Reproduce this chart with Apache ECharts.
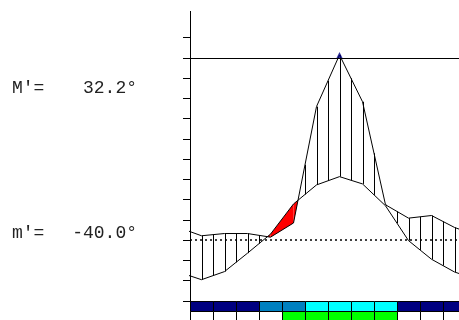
<!DOCTYPE html>
<html><head><meta charset="utf-8">
<script src="https://cdn.jsdelivr.net/npm/echarts@6/dist/echarts.min.js"></script>
<style>html,body{margin:0;padding:0;background:#fff}#c{width:459px;height:320px}</style>
</head><body><div id="c"></div>
<script>
const months = ['Jan','Feb','Mar','Apr','May','Jun','Jul','Aug','Sep','Oct','Nov','Dec'];
const temperature = [10.5, 14.5, 23.6, 33.0, 47.9, 57.3, 61.4, 57.8, 47.0, 29.8, 20.6, 14.3];
const precipitation = [32.2, 33.3, 33.3, 31.5, 38.5, 96.0, 121.5, 98.4, 47.5, 40.9, 42.2, 36.3];
const topBand = [0, 0, 0, 1, 1, 2, 2, 2, 2, 0, 0, 0];
const bottomBand = [0, 0, 0, 0, 1, 1, 1, 1, 1, 0, 0, 0];
const yTicks = [0, 10, 20, 30, 40, 50, 60, 70, 80, 90, 100, 110, 120, 130];
const upperRef = 120;
const lowerRef = 30;
const labelNames = ["M'=", "m'="];
const labelValues = ["32.2°", "-40.0°"];

const topColors = ['#000080', '#0080c0', '#00ffff'];
const bottomColors = ['#ffffff', '#00ff00'];

function extend(arr) {
  const out = [[-0.5, arr[arr.length - 1]]];
  arr.forEach((v, i) => out.push([i + 0.5, v]));
  out.push([arr.length + 0.5, arr[0]]);
  return out;
}
const tempExt = extend(temperature);
const precExt = extend(precipitation);
function at(ext, x) {
  for (let i = 0; i < ext.length - 1; i++) {
    const a = ext[i], b = ext[i + 1];
    if (x >= a[0] && x <= b[0]) return a[1] + (b[1] - a[1]) * (x - a[0]) / (b[0] - a[0]);
  }
  return null;
}
const halfSteps = [];
for (let k = 0; k <= months.length * 2; k++) halfSteps.push([k / 2]);
const segIdx = tempExt.slice(0, -1).map((_, i) => [i]);

const textFont = '18px "Liberation Mono"';
const chart = echarts.init(document.getElementById('c'), null, {renderer: 'canvas'});
chart.setOption({
  animation: false,
  backgroundColor: '#fff',
  grid: {left: 190, top: 11.4, width: 276, height: 309.8, containLabel: false, outerBoundsMode: 'none'},
  xAxis: {type: 'value', min: 0, max: 12, show: false},
  yAxis: {
    type: 'value', min: -10, max: 143, interval: 10,
    splitLine: {show: false},
    axisLabel: {show: false},
    axisLine: {show: true, lineStyle: {color: '#000', width: 1}},
    axisTick: {show: true, length: 7, customValues: yTicks, lineStyle: {color: '#000', width: 1}}
  },
  graphic: [
    {type: 'text', x: 12, y: 88, style: {text: labelNames[0], font: textFont, fill: '#222', verticalAlign: 'middle'}},
    {type: 'text', x: 137, y: 88, style: {text: labelValues[0], font: textFont, fill: '#222', align: 'right', verticalAlign: 'middle'}},
    {type: 'text', x: 12, y: 233, style: {text: labelNames[1], font: textFont, fill: '#222', verticalAlign: 'middle'}},
    {type: 'text', x: 137, y: 233, style: {text: labelValues[1], font: textFont, fill: '#222', align: 'right', verticalAlign: 'middle'}}
  ],
  series: [
    {
      type: 'custom', clip: true, data: segIdx, z: 2,
      renderItem: function (params, api) {
        const i = api.value(0);
        const a0 = tempExt[i], a1 = tempExt[i + 1], b0 = precExt[i], b1 = precExt[i + 1];
        const d0 = a0[1] - b0[1], d1 = a1[1] - b1[1];
        if (d0 <= 0 && d1 <= 0) return null;
        let pts;
        const x0 = a0[0], x1 = a1[0];
        if (d0 > 0 && d1 > 0) {
          pts = [[x0, b0[1]], [x0, a0[1]], [x1, a1[1]], [x1, b1[1]]];
        } else {
          const f = d0 / (d0 - d1);
          const xc = x0 + f * (x1 - x0);
          const yc = a0[1] + f * (a1[1] - a0[1]);
          if (d0 > 0) pts = [[x0, b0[1]], [x0, a0[1]], [xc, yc]];
          else pts = [[xc, yc], [x1, a1[1]], [x1, b1[1]]];
        }
        return {type: 'polygon', shape: {points: pts.map(p => api.coord(p))}, style: {fill: '#ff0000', stroke: null}};
      }
    },
    {
      type: 'custom', clip: true, data: halfSteps, z: 3,
      renderItem: function (params, api) {
        const x = api.value(0);
        const t = at(tempExt, x), p = at(precExt, x);
        if (p <= t) return null;
        const a = api.coord([x, t]), b = api.coord([x, p]);
        const px = Math.round(a[0]) + 0.5;
        return {type: 'line', shape: {x1: px, y1: a[1], x2: px, y2: b[1]}, style: {stroke: '#000', lineWidth: 1}};
      }
    },
    {
      type: 'line', data: tempExt, symbol: 'none', clip: true, z: 4,
      lineStyle: {color: '#000', width: 1},
      markLine: {
        silent: true, symbol: 'none', label: {show: false},
        data: [
          {yAxis: upperRef, lineStyle: {color: '#000', width: 1, type: 'solid'}},
          {yAxis: lowerRef, lineStyle: {color: '#000', width: 1.5, type: [2, 3]}}
        ]
      }
    },
    {
      type: 'line', data: precExt, symbol: 'none', clip: true, z: 4,
      lineStyle: {color: '#000', width: 1}
    },
    {
      type: 'scatter', z: 5, symbol: 'triangle', symbolSize: 6,
      itemStyle: {color: '#000080'},
      data: [[precipitation.indexOf(Math.max(...precipitation)) + 0.5, Math.max(...precipitation)]]
    },
    {
      type: 'custom', clip: true, z: 6,
      data: months.map((m, i) => [i, topBand[i], bottomBand[i]]),
      renderItem: function (params, api) {
        const i = api.value(0);
        const tl = api.coord([i, 0]), br = api.coord([i + 1, -5]);
        const br2 = api.coord([i + 1, -10]);
        const L = Math.round(tl[0]) + 0.5, R = Math.round(br[0]) + 0.5;
        const y0 = Math.round(tl[1]) + 0.5, y1 = Math.round(br[1]) + 0.5, y2 = Math.round(br2[1]) + 0.5;
        return {type: 'group', children: [
          {type: 'rect', shape: {x: L, y: y0, width: R - L, height: y1 - y0}, style: {fill: topColors[api.value(1)], stroke: '#000', lineWidth: 1}},
          {type: 'rect', shape: {x: L, y: y1, width: R - L, height: y2 - y1}, style: {fill: bottomColors[api.value(2)], stroke: '#000', lineWidth: 1}}
        ]};
      }
    }
  ]
});
</script></body></html>
